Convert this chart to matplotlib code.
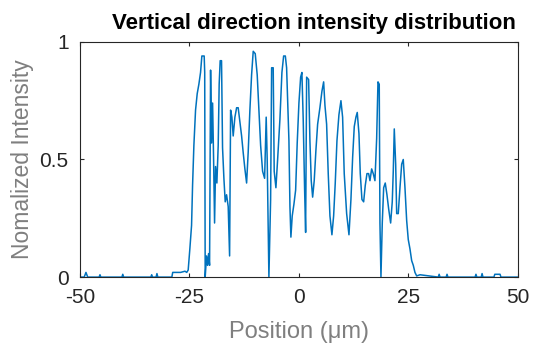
import numpy as np
import matplotlib.pyplot as plt

plt.rcParams['font.family'] = ['Liberation Sans', 'DejaVu Sans']
plt.rcParams['axes.unicode_minus'] = False

# profile vertices (position in um, normalised intensity)
pos = [-50.0, -49.0, -48.6, -48.2, -45.6, -45.4, -45.2, -40.4, -40.2, -40.0,
       -33.8, -33.6, -33.4, -32.6, -32.4, -32.2, -29.0, -28.8, -27.0, -26.0,
       -25.6, -25.27, -24.89, -24.5, -24.27, -23.97, -23.59, -23.21, -22.83, -22.45,
       -22.15, -21.62, -21.5, -21.39, -21.08, -20.85, -20.62, -20.39, -20.16, -19.93,
       -19.7, -19.47, -19.25, -19.02, -18.72, -18.42, -18.2, -17.97, -17.66, -17.43,
       -17.12, -16.82, -16.51, -16.14, -15.82, -15.59, -15.3, -15.0, -14.61, -14.22,
       -13.86, -13.47, -13.08, -12.72, -12.33, -11.94, -11.58, -11.19, -10.8, -10.43,
       -9.97, -9.52, -9.13, -8.74, -8.29, -7.83, -7.47, -7.24, -6.85, -6.46,
       -6.23, -5.87, -5.64, -5.25, -4.86, -4.34, -3.88, -3.49, -3.1, -2.81,
       -2.58, -2.28, -2.05, -1.83, -1.53, -1.14, -0.75, -0.39, 0.0, 0.39,
       0.68, 0.98, 1.3, 1.53, 1.76, 2.21, 2.51, 2.81, 3.13, 3.49,
       3.88, 4.27, 4.79, 5.25, 5.64, 5.94, 6.32, 6.69, 7.08, 7.53,
       7.92, 8.29, 8.68, 9.13, 9.59, 9.97, 10.34, 10.89, 11.42, 11.87,
       12.26, 12.63, 13.01, 13.31, 13.7, 14.0, 14.38, 14.77, 15.14, 15.53,
       15.91, 16.21, 16.6, 16.96, 17.35, 17.74, 18.04, 18.33, 18.49, 18.72,
       19.02, 19.34, 19.7, 20.09, 20.48, 20.93, 21.3, 21.53, 21.76, 22.08,
       22.31, 22.67, 23.06, 23.45, 23.81, 24.2, 24.59, 24.95, 25.34, 25.73,
       26.1, 26.48, 26.87, 27.63, 31.8, 32.0, 32.2, 33.6, 33.8, 34.0,
       40.2, 40.4, 40.6, 41.6, 41.8, 42.0, 44.5, 44.7, 45.9, 46.1,
       50.0]
intensity = [0.0, 0.0, 0.02, 0.0, 0.0, 0.01, 0.0, 0.0, 0.012, 0.0,
             0.0, 0.01, 0.0, 0.0, 0.015, 0.0, 0.0, 0.02, 0.02, 0.025,
             0.02, 0.03, 0.12, 0.22, 0.39, 0.56, 0.71, 0.78, 0.82, 0.87,
             0.94, 0.94, 0.87, 0.0, 0.09, 0.05, 0.10, 0.05, 0.88, 0.57,
             0.74, 0.50, 0.23, 0.47, 0.40, 0.56, 0.82, 0.92, 0.92, 0.55,
             0.42, 0.32, 0.35, 0.30, 0.09, 0.71, 0.68, 0.60, 0.68, 0.72,
             0.72, 0.66, 0.60, 0.53, 0.46, 0.40, 0.53, 0.71, 0.86, 0.96,
             0.95, 0.86, 0.71, 0.56, 0.45, 0.42, 0.68, 0.50, 0.0, 0.33,
             0.89, 0.89, 0.45, 0.38, 0.50, 0.67, 0.87, 0.94, 0.94, 0.89,
             0.75, 0.58, 0.30, 0.17, 0.26, 0.31, 0.37, 0.57, 0.74, 0.85,
             0.87, 0.67, 0.37, 0.19, 0.85, 0.84, 0.58, 0.41, 0.34, 0.41,
             0.54, 0.65, 0.72, 0.79, 0.83, 0.73, 0.65, 0.44, 0.26, 0.18,
             0.26, 0.40, 0.58, 0.69, 0.75, 0.68, 0.44, 0.27, 0.18, 0.33,
             0.51, 0.64, 0.68, 0.70, 0.61, 0.44, 0.33, 0.32, 0.39, 0.44,
             0.44, 0.41, 0.46, 0.44, 0.41, 0.59, 0.83, 0.82, 0.23, 0.0,
             0.23, 0.38, 0.40, 0.35, 0.29, 0.23, 0.32, 0.45, 0.63, 0.48,
             0.27, 0.27, 0.38, 0.48, 0.50, 0.38, 0.24, 0.16, 0.12, 0.07,
             0.05, 0.02, 0.005, 0.01, 0.0, 0.012, 0.0, 0.0, 0.012, 0.0,
             0.0, 0.012, 0.0, 0.0, 0.015, 0.0, 0.0, 0.012, 0.012, 0.0,
             0.0]

fig = plt.figure(figsize=(5.43, 3.49), dpi=100)
ax = fig.add_axes([0.147, 0.206, 0.807, 0.674])
ax.plot(pos, intensity, color='#0072BD', linewidth=1.1)

ax.set_xlim(-50, 50)
ax.set_ylim(0, 1)
ax.set_xticks([-50, -25, 0, 25, 50])
ax.set_yticks([0, 0.5, 1])
ax.set_yticklabels(['0', '0.5', '1'])
ax.tick_params(direction='in', length=3, width=0.8, top=True, right=True,
               labelsize=15, colors='#262626')
ax.tick_params(axis='x', pad=8)
ax.tick_params(axis='y', pad=8)
for s in ax.spines.values():
    s.set_color('#262626')
    s.set_linewidth(0.8)

ax.set_title('Vertical direction intensity distribution', fontsize=16,
             fontweight='bold', color='#000000', pad=9, x=0.535)
ax.set_xlabel('Position (μm)', fontsize=17, color='#7f7f7f', labelpad=10)
ax.set_ylabel('Nomalized Intensity', fontsize=16.5, color='#7f7f7f', labelpad=4)

fig.savefig('out.png', dpi=100)
